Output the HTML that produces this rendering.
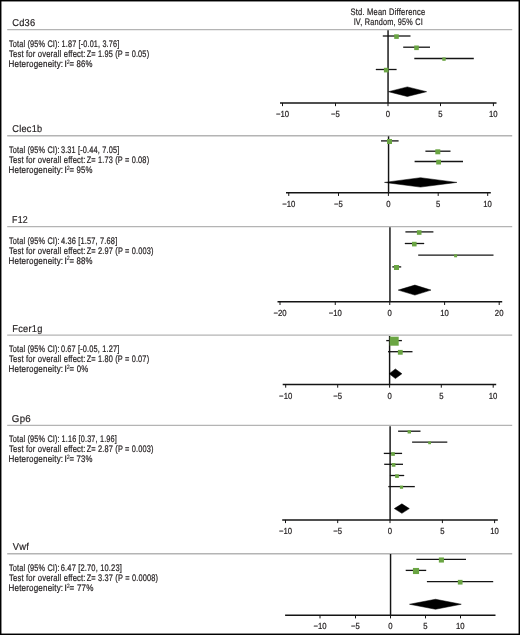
<!DOCTYPE html><html><head><meta charset="utf-8"><style>html,body{margin:0;padding:0;background:#fff;}svg{display:block;will-change:transform;font-family:"Liberation Sans", sans-serif;text-rendering:geometricPrecision;}</style></head><body>
<svg width="520" height="635" viewBox="0 0 520 635">
<rect x="0" y="0" width="520" height="635" fill="#fff"/>
<text transform="translate(350.598 15) scale(0.804 1)" font-size="9.4" fill="#231f20" stroke="#231f20" stroke-width="0.22" letter-spacing="0.25">Std. Mean Difference</text>
<text transform="translate(353.642 25) scale(0.778 1)" font-size="9.4" fill="#231f20" stroke="#231f20" stroke-width="0.22" letter-spacing="0.25">IV, Random, 95% CI</text>
<text transform="translate(12.134 26.3) scale(0.931 1)" font-size="10.0" fill="#231f20" stroke="#231f20" stroke-width="0.2" letter-spacing="0.3">Cd36</text>
<line x1="7.2" x2="512.2" y1="29.6" y2="29.6" stroke="#b4b4b4" stroke-width="1.4"/>
<text transform="translate(9.054 46.7) scale(0.771 1)" font-size="9.5" fill="#231f20" stroke="#231f20" stroke-width="0.22" letter-spacing="0.2">Total (95% CI):</text>
<text transform="translate(61.591 46.7) scale(0.766 1)" font-size="9.5" fill="#231f20" stroke="#231f20" stroke-width="0.22" letter-spacing="0.2">1.87 [-0.01, 3.76]</text>
<text transform="translate(9.047 56.85) scale(0.807 1)" font-size="9.5" fill="#231f20" stroke="#231f20" stroke-width="0.22" letter-spacing="0.2">Test for overall effect:</text>
<text transform="translate(86.679 56.85) scale(0.777 1)" font-size="9.5" fill="#231f20" stroke="#231f20" stroke-width="0.22" letter-spacing="0.2">Z= 1.95 (P = 0.05)</text>
<text transform="translate(8.556 67) scale(0.847 1)" font-size="9.5" fill="#231f20" stroke="#231f20" stroke-width="0.22" letter-spacing="0.2">Heterogeneity:</text>
<text transform="translate(64.2 67) scale(1.053 1)" font-size="9.5" fill="#231f20" stroke="#231f20" stroke-width="0.1">I</text>
<text transform="translate(66.628 63.6) scale(0.877 1)" font-size="6.2" fill="#231f20" stroke="#231f20" stroke-width="0.1">2</text>
<text transform="translate(69.589 67) scale(0.819 1)" font-size="9.5" fill="#231f20" stroke="#231f20" stroke-width="0.22" letter-spacing="0.2">= 86%</text>
<line x1="388.05" x2="388.05" y1="30.3" y2="102.95" stroke="#141414" stroke-width="1.45"/>
<line x1="382.8" x2="410.5" y1="36.0" y2="36.0" stroke="#141414" stroke-width="1.3"/>
<rect x="394.2" y="34.3" width="4.6" height="4.6" fill="#6aa543"/>
<line x1="403.2" x2="430" y1="47.2" y2="47.2" stroke="#141414" stroke-width="1.3"/>
<rect x="414.2" y="45.5" width="4.6" height="4.6" fill="#6aa543"/>
<line x1="414.3" x2="473.8" y1="58.5" y2="58.5" stroke="#141414" stroke-width="1.3"/>
<rect x="442.3" y="57.4" width="3.4" height="3.4" fill="#6aa543"/>
<line x1="375.8" x2="396.6" y1="69.5" y2="69.5" stroke="#141414" stroke-width="1.3"/>
<rect x="383.9" y="67.8" width="4.6" height="4.6" fill="#6aa543"/>
<polygon points="388.5,91.7 407.3,86.9 426.6,91.7 407.3,96.5" fill="#000" stroke="#000" stroke-width="0.5" stroke-linejoin="miter" stroke-miterlimit="10"/>
<line x1="280" x2="496.5" y1="102.95" y2="102.95" stroke="#141414" stroke-width="1.55"/>
<line x1="282.5" x2="282.5" y1="102.95" y2="106.15" stroke="#141414" stroke-width="1.0"/>
<text transform="translate(275.917 117) scale(0.88 1)" font-size="8.8" fill="#231f20" stroke="#231f20" stroke-width="0.22">−10</text>
<line x1="335.5" x2="335.5" y1="102.95" y2="106.15" stroke="#141414" stroke-width="1.0"/>
<text transform="translate(331.07 117) scale(0.88 1)" font-size="8.8" fill="#231f20" stroke="#231f20" stroke-width="0.22">−5</text>
<line x1="388" x2="388" y1="102.95" y2="106.15" stroke="#141414" stroke-width="1.0"/>
<text transform="translate(385.87 117) scale(0.88 1)" font-size="8.8" fill="#231f20" stroke="#231f20" stroke-width="0.22">0</text>
<line x1="440.5" x2="440.5" y1="102.95" y2="106.15" stroke="#141414" stroke-width="1.0"/>
<text transform="translate(438.332 117) scale(0.88 1)" font-size="8.8" fill="#231f20" stroke="#231f20" stroke-width="0.22">5</text>
<line x1="493.4" x2="493.4" y1="102.95" y2="106.15" stroke="#141414" stroke-width="1.0"/>
<text transform="translate(488.962 117) scale(0.88 1)" font-size="8.8" fill="#231f20" stroke="#231f20" stroke-width="0.22">10</text>
<text transform="translate(12.24 132.2) scale(0.919 1)" font-size="10.0" fill="#231f20" stroke="#231f20" stroke-width="0.2" letter-spacing="0.3">Clec1b</text>
<line x1="7.2" x2="512.2" y1="135.7" y2="135.7" stroke="#b4b4b4" stroke-width="1.4"/>
<text transform="translate(9.054 152.7) scale(0.771 1)" font-size="9.5" fill="#231f20" stroke="#231f20" stroke-width="0.22" letter-spacing="0.2">Total (95% CI):</text>
<text transform="translate(60.879 152.7) scale(0.775 1)" font-size="9.5" fill="#231f20" stroke="#231f20" stroke-width="0.22" letter-spacing="0.2">3.31 [-0.44, 7.05]</text>
<text transform="translate(9.047 162.85) scale(0.807 1)" font-size="9.5" fill="#231f20" stroke="#231f20" stroke-width="0.22" letter-spacing="0.2">Test for overall effect:</text>
<text transform="translate(86.679 162.85) scale(0.777 1)" font-size="9.5" fill="#231f20" stroke="#231f20" stroke-width="0.22" letter-spacing="0.2">Z= 1.73 (P = 0.08)</text>
<text transform="translate(8.556 173) scale(0.847 1)" font-size="9.5" fill="#231f20" stroke="#231f20" stroke-width="0.22" letter-spacing="0.2">Heterogeneity:</text>
<text transform="translate(64.2 173) scale(1.053 1)" font-size="9.5" fill="#231f20" stroke="#231f20" stroke-width="0.1">I</text>
<text transform="translate(66.628 169.6) scale(0.877 1)" font-size="6.2" fill="#231f20" stroke="#231f20" stroke-width="0.1">2</text>
<text transform="translate(69.589 173) scale(0.819 1)" font-size="9.5" fill="#231f20" stroke="#231f20" stroke-width="0.22" letter-spacing="0.2">= 95%</text>
<line x1="388.55" x2="388.55" y1="136.3" y2="192.75" stroke="#141414" stroke-width="1.45"/>
<line x1="381" x2="398.6" y1="140.9" y2="140.9" stroke="#141414" stroke-width="1.3"/>
<rect x="387" y="139" width="5" height="5" fill="#6aa543"/>
<line x1="425.4" x2="450.5" y1="151.2" y2="151.2" stroke="#141414" stroke-width="1.3"/>
<rect x="435.3" y="149.3" width="5" height="5" fill="#6aa543"/>
<line x1="414.6" x2="463" y1="161.5" y2="161.5" stroke="#141414" stroke-width="1.3"/>
<rect x="436.2" y="159.7" width="4.8" height="4.8" fill="#6aa543"/>
<polygon points="384.5,182.4 420.5,177.7 456.9,182.4 420.5,187.1" fill="#000" stroke="#000" stroke-width="0.5" stroke-linejoin="miter" stroke-miterlimit="10"/>
<line x1="286" x2="490.8" y1="192.75" y2="192.75" stroke="#141414" stroke-width="1.55"/>
<line x1="288.75" x2="288.75" y1="192.75" y2="195.95" stroke="#141414" stroke-width="1.0"/>
<text transform="translate(282.167 206.5) scale(0.88 1)" font-size="8.8" fill="#231f20" stroke="#231f20" stroke-width="0.22">−10</text>
<line x1="338.5" x2="338.5" y1="192.75" y2="195.95" stroke="#141414" stroke-width="1.0"/>
<text transform="translate(334.07 206.5) scale(0.88 1)" font-size="8.8" fill="#231f20" stroke="#231f20" stroke-width="0.22">−5</text>
<line x1="388.4" x2="388.4" y1="192.75" y2="195.95" stroke="#141414" stroke-width="1.0"/>
<text transform="translate(386.27 206.5) scale(0.88 1)" font-size="8.8" fill="#231f20" stroke="#231f20" stroke-width="0.22">0</text>
<line x1="438.2" x2="438.2" y1="192.75" y2="195.95" stroke="#141414" stroke-width="1.0"/>
<text transform="translate(436.032 206.5) scale(0.88 1)" font-size="8.8" fill="#231f20" stroke="#231f20" stroke-width="0.22">5</text>
<line x1="487.7" x2="487.7" y1="192.75" y2="195.95" stroke="#141414" stroke-width="1.0"/>
<text transform="translate(483.262 206.5) scale(0.88 1)" font-size="8.8" fill="#231f20" stroke="#231f20" stroke-width="0.22">10</text>
<text transform="translate(11.995 222.8) scale(0.881 1)" font-size="10.0" fill="#231f20" stroke="#231f20" stroke-width="0.2" letter-spacing="0.3">F12</text>
<line x1="7.2" x2="512.2" y1="226.6" y2="226.6" stroke="#b4b4b4" stroke-width="1.4"/>
<text transform="translate(9.054 243.5) scale(0.771 1)" font-size="9.5" fill="#231f20" stroke="#231f20" stroke-width="0.22" letter-spacing="0.2">Total (95% CI):</text>
<text transform="translate(60.951 243.5) scale(0.783 1)" font-size="9.5" fill="#231f20" stroke="#231f20" stroke-width="0.22" letter-spacing="0.2">4.36 [1.57, 7.68]</text>
<text transform="translate(9.047 253.65) scale(0.807 1)" font-size="9.5" fill="#231f20" stroke="#231f20" stroke-width="0.22" letter-spacing="0.2">Test for overall effect:</text>
<text transform="translate(86.678 253.65) scale(0.779 1)" font-size="9.5" fill="#231f20" stroke="#231f20" stroke-width="0.22" letter-spacing="0.2">Z= 2.97 (P = 0.003)</text>
<text transform="translate(8.556 263.8) scale(0.847 1)" font-size="9.5" fill="#231f20" stroke="#231f20" stroke-width="0.22" letter-spacing="0.2">Heterogeneity:</text>
<text transform="translate(64.2 263.8) scale(1.053 1)" font-size="9.5" fill="#231f20" stroke="#231f20" stroke-width="0.1">I</text>
<text transform="translate(66.628 260.4) scale(0.877 1)" font-size="6.2" fill="#231f20" stroke="#231f20" stroke-width="0.1">2</text>
<text transform="translate(69.589 263.8) scale(0.819 1)" font-size="9.5" fill="#231f20" stroke="#231f20" stroke-width="0.22" letter-spacing="0.2">= 88%</text>
<line x1="389.95" x2="389.95" y1="227.2" y2="301.8" stroke="#141414" stroke-width="1.45"/>
<line x1="405.4" x2="433.4" y1="231.9" y2="231.9" stroke="#141414" stroke-width="1.3"/>
<rect x="416.9" y="230.2" width="4.6" height="4.6" fill="#6aa543"/>
<line x1="404.8" x2="424.2" y1="243.5" y2="243.5" stroke="#141414" stroke-width="1.3"/>
<rect x="412" y="241.8" width="4.6" height="4.6" fill="#6aa543"/>
<line x1="418.2" x2="493.5" y1="255.2" y2="255.2" stroke="#141414" stroke-width="1.3"/>
<rect x="454.1" y="254.3" width="3.0" height="3.0" fill="#6aa543"/>
<line x1="392.3" x2="401.2" y1="266.9" y2="266.9" stroke="#141414" stroke-width="1.3"/>
<rect x="394" y="265" width="5" height="5" fill="#6aa543"/>
<polygon points="398.2,290.1 414.9,285.1 431,290.1 414.9,295.1" fill="#000" stroke="#000" stroke-width="0.5" stroke-linejoin="miter" stroke-miterlimit="10"/>
<line x1="277.5" x2="502.2" y1="301.8" y2="301.8" stroke="#141414" stroke-width="1.55"/>
<line x1="280" x2="280" y1="301.8" y2="305" stroke="#141414" stroke-width="1.0"/>
<text transform="translate(273.417 315.8) scale(0.88 1)" font-size="8.8" fill="#231f20" stroke="#231f20" stroke-width="0.22">−20</text>
<line x1="335.25" x2="335.25" y1="301.8" y2="305" stroke="#141414" stroke-width="1.0"/>
<text transform="translate(328.667 315.8) scale(0.88 1)" font-size="8.8" fill="#231f20" stroke="#231f20" stroke-width="0.22">−10</text>
<line x1="389.75" x2="389.75" y1="301.8" y2="305" stroke="#141414" stroke-width="1.0"/>
<text transform="translate(387.62 315.8) scale(0.88 1)" font-size="8.8" fill="#231f20" stroke="#231f20" stroke-width="0.22">0</text>
<line x1="444.6" x2="444.6" y1="301.8" y2="305" stroke="#141414" stroke-width="1.0"/>
<text transform="translate(440.162 315.8) scale(0.88 1)" font-size="8.8" fill="#231f20" stroke="#231f20" stroke-width="0.22">10</text>
<line x1="499.2" x2="499.2" y1="301.8" y2="305" stroke="#141414" stroke-width="1.0"/>
<text transform="translate(494.84 315.8) scale(0.88 1)" font-size="8.8" fill="#231f20" stroke="#231f20" stroke-width="0.22">20</text>
<text transform="translate(12.26 331.6) scale(0.924 1)" font-size="10.0" fill="#231f20" stroke="#231f20" stroke-width="0.2" letter-spacing="0.3">Fcer1g</text>
<line x1="7.2" x2="512.2" y1="335.1" y2="335.1" stroke="#b4b4b4" stroke-width="1.4"/>
<text transform="translate(9.054 351.9) scale(0.771 1)" font-size="9.5" fill="#231f20" stroke="#231f20" stroke-width="0.22" letter-spacing="0.2">Total (95% CI):</text>
<text transform="translate(60.879 351.9) scale(0.775 1)" font-size="9.5" fill="#231f20" stroke="#231f20" stroke-width="0.22" letter-spacing="0.2">0.67 [-0.05, 1.27]</text>
<text transform="translate(9.047 362.05) scale(0.807 1)" font-size="9.5" fill="#231f20" stroke="#231f20" stroke-width="0.22" letter-spacing="0.2">Test for overall effect:</text>
<text transform="translate(86.679 362.05) scale(0.777 1)" font-size="9.5" fill="#231f20" stroke="#231f20" stroke-width="0.22" letter-spacing="0.2">Z= 1.80 (P = 0.07)</text>
<text transform="translate(8.556 372.2) scale(0.847 1)" font-size="9.5" fill="#231f20" stroke="#231f20" stroke-width="0.22" letter-spacing="0.2">Heterogeneity:</text>
<text transform="translate(64.2 372.2) scale(1.053 1)" font-size="9.5" fill="#231f20" stroke="#231f20" stroke-width="0.1">I</text>
<text transform="translate(66.628 368.8) scale(0.877 1)" font-size="6.2" fill="#231f20" stroke="#231f20" stroke-width="0.1">2</text>
<text transform="translate(69.587 372.2) scale(0.823 1)" font-size="9.5" fill="#231f20" stroke="#231f20" stroke-width="0.22" letter-spacing="0.2">= 0%</text>
<line x1="389.6" x2="389.6" y1="336" y2="384.5" stroke="#141414" stroke-width="1.45"/>
<line x1="386.25" x2="401.9" y1="340.6" y2="340.6" stroke="#141414" stroke-width="1.3"/>
<rect x="389.7" y="336.7" width="9.0" height="9.0" fill="#6aa543"/>
<line x1="388" x2="412.5" y1="351.7" y2="351.7" stroke="#141414" stroke-width="1.3"/>
<rect x="397.9" y="349.9" width="4.8" height="4.8" fill="#6aa543"/>
<polygon points="389.2,373.75 395.4,368.95 401.9,373.75 395.4,378.55" fill="#000" stroke="#000" stroke-width="0.5" stroke-linejoin="miter" stroke-miterlimit="10"/>
<line x1="282.7" x2="496.2" y1="384.5" y2="384.5" stroke="#141414" stroke-width="1.55"/>
<line x1="285.7" x2="285.7" y1="384.5" y2="387.7" stroke="#141414" stroke-width="1.0"/>
<text transform="translate(279.117 398.5) scale(0.88 1)" font-size="8.8" fill="#231f20" stroke="#231f20" stroke-width="0.22">−10</text>
<line x1="337.7" x2="337.7" y1="384.5" y2="387.7" stroke="#141414" stroke-width="1.0"/>
<text transform="translate(333.27 398.5) scale(0.88 1)" font-size="8.8" fill="#231f20" stroke="#231f20" stroke-width="0.22">−5</text>
<line x1="389.6" x2="389.6" y1="384.5" y2="387.7" stroke="#141414" stroke-width="1.0"/>
<text transform="translate(387.47 398.5) scale(0.88 1)" font-size="8.8" fill="#231f20" stroke="#231f20" stroke-width="0.22">0</text>
<line x1="441.3" x2="441.3" y1="384.5" y2="387.7" stroke="#141414" stroke-width="1.0"/>
<text transform="translate(439.132 398.5) scale(0.88 1)" font-size="8.8" fill="#231f20" stroke="#231f20" stroke-width="0.22">5</text>
<line x1="493.2" x2="493.2" y1="384.5" y2="387.7" stroke="#141414" stroke-width="1.0"/>
<text transform="translate(488.762 398.5) scale(0.88 1)" font-size="8.8" fill="#231f20" stroke="#231f20" stroke-width="0.22">10</text>
<text transform="translate(11.814 422) scale(0.971 1)" font-size="10.0" fill="#231f20" stroke="#231f20" stroke-width="0.2" letter-spacing="0.3">Gp6</text>
<line x1="7.2" x2="512.2" y1="425.4" y2="425.4" stroke="#b4b4b4" stroke-width="1.4"/>
<text transform="translate(9.054 441.9) scale(0.771 1)" font-size="9.5" fill="#231f20" stroke="#231f20" stroke-width="0.22" letter-spacing="0.2">Total (95% CI):</text>
<text transform="translate(61.589 441.9) scale(0.768 1)" font-size="9.5" fill="#231f20" stroke="#231f20" stroke-width="0.22" letter-spacing="0.2">1.16 [0.37, 1.96]</text>
<text transform="translate(9.047 452.05) scale(0.807 1)" font-size="9.5" fill="#231f20" stroke="#231f20" stroke-width="0.22" letter-spacing="0.2">Test for overall effect:</text>
<text transform="translate(86.678 452.05) scale(0.779 1)" font-size="9.5" fill="#231f20" stroke="#231f20" stroke-width="0.22" letter-spacing="0.2">Z= 2.87 (P = 0.003)</text>
<text transform="translate(8.556 462.2) scale(0.847 1)" font-size="9.5" fill="#231f20" stroke="#231f20" stroke-width="0.22" letter-spacing="0.2">Heterogeneity:</text>
<text transform="translate(64.2 462.2) scale(1.053 1)" font-size="9.5" fill="#231f20" stroke="#231f20" stroke-width="0.1">I</text>
<text transform="translate(66.628 458.8) scale(0.877 1)" font-size="6.2" fill="#231f20" stroke="#231f20" stroke-width="0.1">2</text>
<text transform="translate(69.589 462.2) scale(0.819 1)" font-size="9.5" fill="#231f20" stroke="#231f20" stroke-width="0.22" letter-spacing="0.2">= 73%</text>
<line x1="390.1" x2="390.1" y1="426.3" y2="519.9" stroke="#141414" stroke-width="1.45"/>
<line x1="398.1" x2="420.5" y1="431.2" y2="431.2" stroke="#141414" stroke-width="1.3"/>
<rect x="407.6" y="430.1" width="3.4" height="3.4" fill="#6aa543"/>
<line x1="412.1" x2="447.3" y1="442.2" y2="442.2" stroke="#141414" stroke-width="1.3"/>
<rect x="428.2" y="441.4" width="2.8" height="2.8" fill="#6aa543"/>
<line x1="383.8" x2="402.1" y1="453.4" y2="453.4" stroke="#141414" stroke-width="1.3"/>
<rect x="391.15" y="452.15" width="3.7" height="3.7" fill="#6aa543"/>
<line x1="384.2" x2="403" y1="464.3" y2="464.3" stroke="#141414" stroke-width="1.3"/>
<rect x="391.75" y="463.05" width="3.7" height="3.7" fill="#6aa543"/>
<line x1="389.9" x2="404.2" y1="475.5" y2="475.5" stroke="#141414" stroke-width="1.3"/>
<rect x="395.15" y="474.25" width="3.7" height="3.7" fill="#6aa543"/>
<line x1="388.3" x2="414.8" y1="486.6" y2="486.6" stroke="#141414" stroke-width="1.3"/>
<rect x="399.9" y="485.6" width="3.2" height="3.2" fill="#6aa543"/>
<polygon points="394.3,508.6 401.9,503.85 409.3,508.6 401.9,513.35" fill="#000" stroke="#000" stroke-width="0.5" stroke-linejoin="miter" stroke-miterlimit="10"/>
<line x1="282.2" x2="497.8" y1="519.9" y2="519.9" stroke="#141414" stroke-width="1.55"/>
<line x1="285.5" x2="285.5" y1="519.9" y2="523.1" stroke="#141414" stroke-width="1.0"/>
<text transform="translate(278.917 533.5) scale(0.88 1)" font-size="8.8" fill="#231f20" stroke="#231f20" stroke-width="0.22">−10</text>
<line x1="337.7" x2="337.7" y1="519.9" y2="523.1" stroke="#141414" stroke-width="1.0"/>
<text transform="translate(333.27 533.5) scale(0.88 1)" font-size="8.8" fill="#231f20" stroke="#231f20" stroke-width="0.22">−5</text>
<line x1="390" x2="390" y1="519.9" y2="523.1" stroke="#141414" stroke-width="1.0"/>
<text transform="translate(387.87 533.5) scale(0.88 1)" font-size="8.8" fill="#231f20" stroke="#231f20" stroke-width="0.22">0</text>
<line x1="442.4" x2="442.4" y1="519.9" y2="523.1" stroke="#141414" stroke-width="1.0"/>
<text transform="translate(440.232 533.5) scale(0.88 1)" font-size="8.8" fill="#231f20" stroke="#231f20" stroke-width="0.22">5</text>
<line x1="494.6" x2="494.6" y1="519.9" y2="523.1" stroke="#141414" stroke-width="1.0"/>
<text transform="translate(490.162 533.5) scale(0.88 1)" font-size="8.8" fill="#231f20" stroke="#231f20" stroke-width="0.22">10</text>
<text transform="translate(12.7 550.2) scale(0.931 1)" font-size="10.0" fill="#231f20" stroke="#231f20" stroke-width="0.2" letter-spacing="0.3">Vwf</text>
<line x1="7.2" x2="512.2" y1="553.7" y2="553.7" stroke="#b4b4b4" stroke-width="1.4"/>
<text transform="translate(9.054 571) scale(0.771 1)" font-size="9.5" fill="#231f20" stroke="#231f20" stroke-width="0.22" letter-spacing="0.2">Total (95% CI):</text>
<text transform="translate(60.725 571) scale(0.79 1)" font-size="9.5" fill="#231f20" stroke="#231f20" stroke-width="0.22" letter-spacing="0.2">6.47 [2.70, 10.23]</text>
<text transform="translate(9.047 581.15) scale(0.807 1)" font-size="9.5" fill="#231f20" stroke="#231f20" stroke-width="0.22" letter-spacing="0.2">Test for overall effect:</text>
<text transform="translate(86.677 581.15) scale(0.781 1)" font-size="9.5" fill="#231f20" stroke="#231f20" stroke-width="0.22" letter-spacing="0.2">Z= 3.37 (P = 0.0008)</text>
<text transform="translate(8.556 591.3) scale(0.847 1)" font-size="9.5" fill="#231f20" stroke="#231f20" stroke-width="0.22" letter-spacing="0.2">Heterogeneity:</text>
<text transform="translate(64.2 591.3) scale(1.053 1)" font-size="9.5" fill="#231f20" stroke="#231f20" stroke-width="0.1">I</text>
<text transform="translate(66.628 587.9) scale(0.877 1)" font-size="6.2" fill="#231f20" stroke="#231f20" stroke-width="0.1">2</text>
<text transform="translate(69.576 591.3) scale(0.852 1)" font-size="9.5" fill="#231f20" stroke="#231f20" stroke-width="0.22" letter-spacing="0.2">= 77%</text>
<line x1="390.55" x2="390.55" y1="554" y2="615.2" stroke="#141414" stroke-width="1.45"/>
<line x1="416.4" x2="466" y1="559.4" y2="559.4" stroke="#141414" stroke-width="1.3"/>
<rect x="438.85" y="557.45" width="5.1" height="5.1" fill="#6aa543"/>
<line x1="405.7" x2="426.2" y1="570.4" y2="570.4" stroke="#141414" stroke-width="1.3"/>
<rect x="412.95" y="567.95" width="6.1" height="6.1" fill="#6aa543"/>
<line x1="426.9" x2="493.2" y1="581.6" y2="581.6" stroke="#141414" stroke-width="1.3"/>
<rect x="457.85" y="579.85" width="4.7" height="4.7" fill="#6aa543"/>
<polygon points="409.5,604.25 435.5,599.25 461.25,604.25 435.5,609.25" fill="#000" stroke="#000" stroke-width="0.5" stroke-linejoin="miter" stroke-miterlimit="10"/>
<line x1="285.1" x2="495.5" y1="615.2" y2="615.2" stroke="#141414" stroke-width="1.55"/>
<line x1="320" x2="320" y1="615.2" y2="618.4" stroke="#141414" stroke-width="1.0"/>
<text transform="translate(313.417 628.8) scale(0.88 1)" font-size="8.8" fill="#231f20" stroke="#231f20" stroke-width="0.22">−10</text>
<line x1="355.5" x2="355.5" y1="615.2" y2="618.4" stroke="#141414" stroke-width="1.0"/>
<text transform="translate(351.07 628.8) scale(0.88 1)" font-size="8.8" fill="#231f20" stroke="#231f20" stroke-width="0.22">−5</text>
<line x1="390.5" x2="390.5" y1="615.2" y2="618.4" stroke="#141414" stroke-width="1.0"/>
<text transform="translate(388.37 628.8) scale(0.88 1)" font-size="8.8" fill="#231f20" stroke="#231f20" stroke-width="0.22">0</text>
<line x1="425.5" x2="425.5" y1="615.2" y2="618.4" stroke="#141414" stroke-width="1.0"/>
<text transform="translate(423.332 628.8) scale(0.88 1)" font-size="8.8" fill="#231f20" stroke="#231f20" stroke-width="0.22">5</text>
<line x1="460.5" x2="460.5" y1="615.2" y2="618.4" stroke="#141414" stroke-width="1.0"/>
<text transform="translate(456.062 628.8) scale(0.88 1)" font-size="8.8" fill="#231f20" stroke="#231f20" stroke-width="0.22">10</text>
<rect x="0.725" y="0.725" width="518.55" height="633.55" fill="none" stroke="#000" stroke-width="1.45"/>
</svg></body></html>
